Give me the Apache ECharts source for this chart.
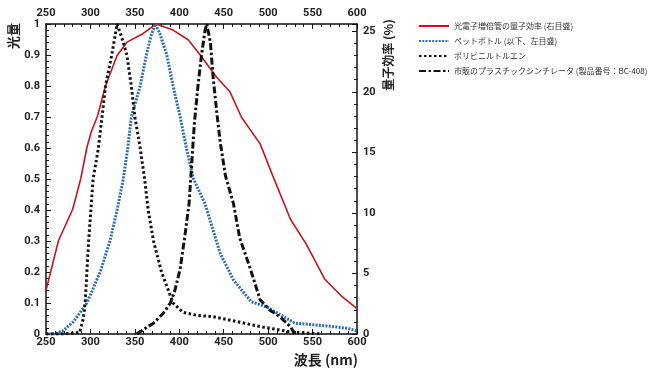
<!DOCTYPE html>
<html>
<head>
<meta charset="utf-8">
<script src="https://cdn.jsdelivr.net/npm/echarts@6/dist/echarts.min.js"></script>
<style>html,body{margin:0;padding:0;background:#fff;}#c{width:650px;height:374px;}</style>
</head>
<body>
<div id="c"></div>
<script>
// ---- data ----
var legendNames = ['光電子増倍管の量子効率 (右目盛)', 'ペットボトル (以下、左目盛)', 'ポリビニルトルエン', '市販のプラスチックシンチレータ (製品番号：BC-408)'];
var xTicks = [250, 300, 350, 400, 450, 500, 550, 600];
var leftTicks = [0, 0.1, 0.2, 0.3, 0.4, 0.5, 0.6, 0.7, 0.8, 0.9, 1];
var rightTicks = [0, 5, 10, 15, 20, 25];

// PMT quantum efficiency (%), right axis
var pmtWl = [250, 264, 280, 289, 296, 301, 308, 317, 330, 341, 359, 374, 393, 410, 424, 442, 457, 470, 491, 505, 525, 543, 564, 583, 600];
var pmtQE = [3.6, 7.7, 10.3, 12.8, 15.4, 16.7, 18.0, 20.5, 23.0, 24.1, 24.8, 25.6, 25.1, 24.3, 23.0, 21.2, 20.0, 17.9, 15.7, 13.1, 9.5, 7.4, 4.5, 3.1, 2.1];

// PET bottle (relative), left axis
var petWl = [250, 260, 269, 281, 296, 311, 322, 330, 337, 342, 346, 356, 363, 368, 373, 378, 386, 393, 401, 408, 416, 429, 446, 461, 481, 498, 515, 530, 550, 570, 590, 600];
var petVal = [0, 0, 0.01, 0.04, 0.1, 0.2, 0.3, 0.4, 0.5, 0.6, 0.7, 0.8, 0.9, 0.96, 1.0, 0.97, 0.9, 0.8, 0.7, 0.6, 0.5, 0.42, 0.26, 0.174, 0.104, 0.088, 0.06, 0.035, 0.03, 0.025, 0.018, 0.01];

// Polyvinyl toluene (relative), left axis
var pvtWl = [250, 270, 288, 292, 294, 298, 303, 309, 313, 317, 324, 330, 336, 341, 346, 350, 356, 361, 365, 371, 380, 393, 404, 420, 438, 460, 491, 525, 560];
var pvtVal = [0, 0, 0.005, 0.05, 0.1, 0.3, 0.5, 0.6, 0.7, 0.8, 0.9, 1.0, 0.95, 0.9, 0.8, 0.7, 0.6, 0.5, 0.4, 0.3, 0.2, 0.1, 0.07, 0.06, 0.056, 0.043, 0.024, 0.007, 0];

// BC-408 (relative), left axis
var bcWl = [352, 360, 371, 382, 390, 395, 401, 406, 411, 414, 417, 421, 425, 429, 431, 435, 438, 442, 446, 452, 461, 468, 480, 491, 502, 513, 525, 530];
var bcVal = [0, 0.015, 0.035, 0.067, 0.1, 0.14, 0.21, 0.31, 0.42, 0.55, 0.68, 0.8, 0.9, 0.98, 1.0, 0.94, 0.83, 0.72, 0.62, 0.51, 0.42, 0.31, 0.21, 0.11, 0.077, 0.056, 0.024, 0];

function pairs(xs, ys) { return xs.map(function (x, i) { return [x, ys[i]]; }); }

var labelFont = { fontFamily: 'Roboto', fontWeight: 'bold', fontSize: 11, color: '#222' };
var titleFont = 'bold 13px "Noto Sans CJK JP"';

function xAx(pos) {
  return {
    type: 'value', position: pos, min: 250, max: 600, interval: 50,
    axisLine: { show: true, onZero: false, lineStyle: { color: '#111', width: 1.5 } },
    axisTick: { show: true, inside: true, length: 5, lineStyle: { color: '#111', width: 1 } },
    minorTick: { show: true, splitNumber: 5, length: 3, lineStyle: { color: '#111', width: 1 } },
    splitLine: { show: false },
    axisLabel: Object.assign({ margin: pos === 'top' ? 5 : 3 }, labelFont)
  };
}

var chart = echarts.init(document.getElementById('c'), null, { renderer: 'canvas' });
chart.setOption({
  backgroundColor: '#fff',
  animation: false,
  grid: { left: 46, right: 293, top: 24, bottom: 40 },
  xAxis: [xAx('bottom'), xAx('top')],
  yAxis: [
    {
      type: 'value', position: 'left', min: 0, max: 1, interval: 0.1,
      axisLine: { show: true, onZero: false, lineStyle: { color: '#111', width: 1.5 } },
      axisTick: { show: true, inside: true, length: 5, lineStyle: { color: '#111', width: 1 } },
      minorTick: { show: true, splitNumber: 5, length: 3, lineStyle: { color: '#111', width: 1 } },
      splitLine: { show: false },
      axisLabel: Object.assign({ margin: 6, formatter: function (v) { return String(+v.toFixed(1)); } }, labelFont)
    },
    {
      type: 'value', position: 'right', min: 0, max: 25.6, interval: 5,
      axisLine: { show: true, onZero: false, lineStyle: { color: '#111', width: 1.5 } },
      axisTick: { show: true, inside: true, length: 5, lineStyle: { color: '#111', width: 1 } },
      minorTick: { show: true, splitNumber: 5, length: 3, lineStyle: { color: '#111', width: 1 } },
      splitLine: { show: false },
      axisLabel: Object.assign({ margin: 6, showMaxLabel: false }, labelFont)
    }
  ],
  legend: {
    orient: 'vertical', left: 413, top: 15, itemWidth: 30, itemHeight: 12, itemGap: 3,
    itemStyle: { opacity: 0 },
    textStyle: { fontFamily: 'Noto Sans CJK JP', fontSize: 8, color: '#333', lineHeight: 12 },
    data: legendNames
  },
  series: [
    { name: legendNames[0], type: 'line', yAxisIndex: 1, symbol: 'none', data: pairs(pmtWl, pmtQE),
      lineStyle: { color: '#c4161c', width: 1.6 }, itemStyle: { color: '#c4161c' } },
    { name: legendNames[1], type: 'line', yAxisIndex: 0, symbol: 'none', data: pairs(petWl, petVal),
      lineStyle: { color: '#2f6db3', width: 3, type: [2, 1.3], cap: 'butt' }, itemStyle: { color: '#2f6db3' } },
    { name: legendNames[2], type: 'line', yAxisIndex: 0, symbol: 'none', data: pairs(pvtWl, pvtVal),
      lineStyle: { color: '#111', width: 3, type: [2.5, 2.5], cap: 'butt' }, itemStyle: { color: '#111' } },
    { name: legendNames[3], type: 'line', yAxisIndex: 0, symbol: 'none', data: pairs(bcWl, bcVal),
      lineStyle: { color: '#111', width: 3, type: [7, 2.5, 2.5, 2.5], cap: 'butt' }, itemStyle: { color: '#111' } }
  ],
  graphic: [
    { type: 'text', x: 13, y: 36, rotation: Math.PI / 2,
      style: { text: '光量', font: titleFont, fill: '#222', align: 'center', verticalAlign: 'middle' } },
    { type: 'text', x: 388, y: 55, rotation: Math.PI / 2,
      style: { text: '量子効率 (%)', font: 'bold 12px "Noto Sans CJK JP"', fill: '#222', align: 'center', verticalAlign: 'middle' } },
    { type: 'text', x: 358, y: 360,
      style: { text: '波長 (nm)', font: 'bold 14px "Noto Sans CJK JP"', fill: '#222', align: 'right', verticalAlign: 'middle' } }
  ]
});
</script>
</body>
</html>
